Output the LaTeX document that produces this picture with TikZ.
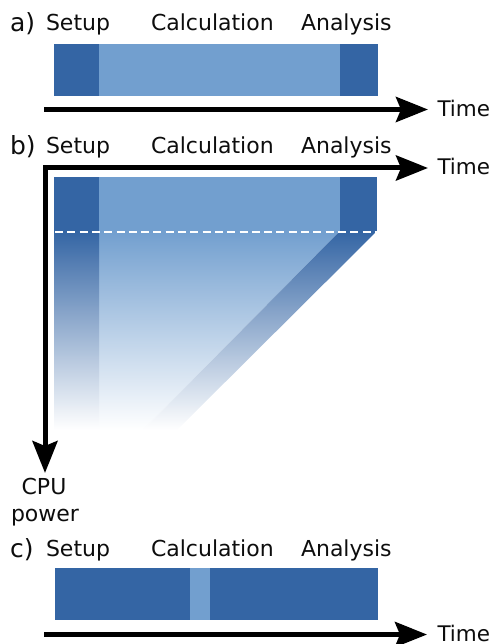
\documentclass[tikz,border=0pt]{standalone}
\usepackage{fontspec}
\setmainfont{DejaVu Sans}
\usetikzlibrary{arrows.meta}
\definecolor{darkb}{HTML}{3465A4}
\definecolor{lightb}{HTML}{729FCF}
\tikzset{
  lab/.style={anchor=base west,inner sep=0pt,outer sep=0pt,font=\fontsize{22}{26}\selectfont,text=black!95},
  tag/.style={lab,font=\fontsize{25}{30}\selectfont},
  timelab/.style={lab,font=\fontsize{21.5}{26}\selectfont},
  cen/.style={anchor=base,inner sep=0pt,outer sep=0pt,font=\fontsize{22}{26}\selectfont,text=black!95},
  axisline/.style={line width=5pt,black,-{Stealth[length=32pt,width=25pt,inset=5pt]}},
  fadedark/.style={top color=darkb,bottom color=white},
  fadelight/.style={top color=lightb,bottom color=white},
}
\begin{document}
\begin{tikzpicture}[x=1pt,y=-1pt]
\useasboundingbox (0,0) rectangle (491,644);
% panel a
\fill[lightb] (54,44) rectangle (378,96);
\fill[darkb] (54,44) rectangle (99,96);
\fill[darkb] (340,44) rectangle (378,96);
\node[tag] (la) at (10,32) {a)};
\node[lab] (sa) at (46,31) {Setup};
\node[lab] (ca) at (151,31) {Calculation};
\node[lab] (na) at (301,31) {Analysis};
\node[timelab] (ta) at (437.5,117) {Time};
\coordinate (a0) at (44,109.5);
\coordinate (a1) at (428,109.5);
\draw[axisline] (a0) -- (a1);
% panel b
\fill[lightb] (99,177) rectangle (340,232);
\fill[darkb] (54,177) rectangle (99,232);
\fill[darkb] (340,177) rectangle (377,232);
\shade[fadelight] (99,231) -- (340,231) -- (143,430) -- (99,430) -- cycle;
\shade[fadedark] (54,231) rectangle (99,430);
\shade[fadedark] (340,231) -- (377,231) -- (177,430) -- (143,430) -- cycle;
\draw[white,line width=2pt,dash pattern=on 8pt off 4.3pt] (55,231.5) -- (377,231.5);
\node[tag] (lb) at (10,155) {b)};
\node[lab] (sb) at (46,153.5) {Setup};
\node[lab] (cb) at (151,153.5) {Calculation};
\node[lab] (nb) at (301,153.5) {Analysis};
\node[timelab] (tb) at (437.5,175) {Time};
\node[cen] (cpu) at (44,494) {CPU};
\node[cen] (pow) at (45,521) {power};
\coordinate (b0) at (45,168);
\coordinate (b1) at (428,168);
\coordinate (b2) at (45,473);
\draw[axisline,{Stealth[length=32pt,width=25pt,inset=5pt]}-{Stealth[length=32pt,width=25pt,inset=5pt]},miter limit=10] (b2) -- (b0) -- (b1);
% panel c
\fill[lightb] (55,568) rectangle (378,620);
\fill[darkb] (55,568) rectangle (190,620);
\fill[darkb] (210,568) rectangle (377.5,620);
\node[tag] (lc) at (10,557) {c)};
\node[lab] (sc) at (46,556) {Setup};
\node[lab] (cc) at (151,556) {Calculation};
\node[lab] (nc) at (301,556) {Analysis};
\node[timelab] (tc) at (437.5,641) {Time};
\coordinate (c0) at (44,634.5);
\coordinate (c1) at (427,634.5);
\draw[axisline] (c0) -- (c1);
\end{tikzpicture}
\end{document}
